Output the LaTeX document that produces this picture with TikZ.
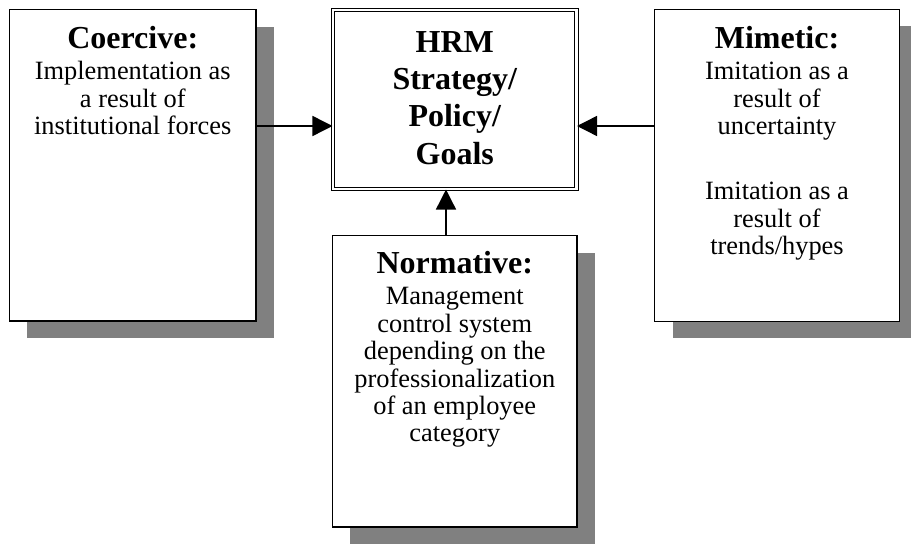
\documentclass[tikz,border=0pt]{standalone}
\usepackage{fontspec}
\setmainfont{Liberation Serif}
\usetikzlibrary{arrows.meta,shadows}
\definecolor{shadowgray}{HTML}{808080}
\newcommand{\boxtitle}[1]{{\fontsize{24}{28}\selectfont\bfseries #1}}

\begin{document}
\begin{tikzpicture}[x=0.75pt, y=-0.75pt,
  box/.style={draw, line width=1.2pt, fill=white, inner sep=0pt,
    drop shadow={shadow xshift=13.5pt, shadow yshift=-12.75pt, fill=shadowgray, opacity=1}},
  goalbox/.style={draw, line width=0.8pt, double, double distance=1.6pt, inner sep=0pt},
  txt/.style={anchor=north, align=center, inner sep=0pt, font=\fontsize{19.8}{20.6}\selectfont},
  arr/.style={line width=1.1pt, -{Triangle[length=15pt, width=15pt]}}]
  \useasboundingbox (0,0) rectangle (911,545);

  \node[box, minimum width=184.9pt, minimum height=233.6pt] (coercive) at (132.75,165.25) {};
  \node[box, minimum width=183.75pt, minimum height=234pt] (mimetic) at (777,165.5) {};
  \node[box, minimum width=183.4pt, minimum height=218.6pt] (normative) at (454.75,381.25) {};
  \node[goalbox, minimum width=182.6pt, minimum height=134.25pt] (hrm) at (454.75,99.5) {};

  \node[txt] (coercivetxt) at ([yshift=-13pt]coercive.north)
    {\boxtitle{Coercive:}\\[3pt] Implementation as\\ a result of\\ institutional forces};
  \node[txt] (mimetictxt) at ([yshift=-13pt]mimetic.north)
    {\boxtitle{Mimetic:}\\[3pt] Imitation as a\\ result of\\ uncertainty\\[28pt]
     Imitation as a\\ result of\\ trends/hypes};
  \node[txt] (normativetxt) at ([yshift=-12pt]normative.north)
    {\boxtitle{Normative:}\\[3pt] Management\\ control system\\ depending on the\\
     professionalization\\ of an employee\\ category};
  \node[txt, font=\fontsize{24}{28}\selectfont\bfseries] (hrmtxt) at ([yshift=-16pt]hrm.north)
    {HRM\\ Strategy/\\ Policy/\\ Goals};

  \coordinate (arrowy) at (0,126);
  \coordinate (arrowx) at (446,0);
  \path[arr]
  (coercive.east |- arrowy) edge (hrm.west |- arrowy)
  (mimetic.west |- arrowy) edge (hrm.east |- arrowy)
  (normative.north -| arrowx) edge (hrm.south -| arrowx);
\end{tikzpicture}
\end{document}
